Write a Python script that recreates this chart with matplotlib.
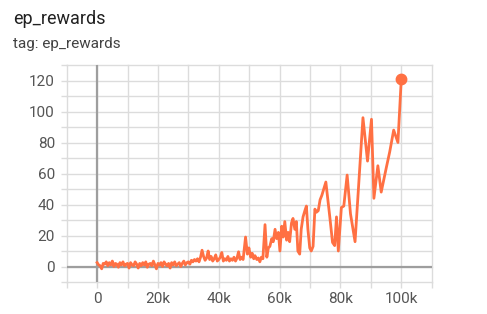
import matplotlib
matplotlib.use("Agg")
import matplotlib.pyplot as plt
from matplotlib.ticker import MultipleLocator, FuncFormatter
import numpy as np

plt.rcParams["font.family"] = ["Roboto", "DejaVu Sans"]

# early dense episodes (step, reward)
steps_early = [0, 500, 1000, 1500, 2000, 2500, 3000, 3500, 4000, 4500,
               5000, 5500, 6000, 6500, 7000, 7500, 8000, 8500, 9000, 9500,
               10000, 10500, 11000, 11500, 12000, 12500, 13000, 13500, 14000, 14500,
               15000, 15500, 16000, 16500, 17000, 17500, 18000, 18500, 19000, 19500,
               20000, 20500, 21000, 21500, 22000, 22500, 23000, 23500, 24000, 24500,
               25000, 25500, 26000, 26500, 27000, 27500, 28000, 28500, 29000, 29500,
               30000, 30500, 31000, 31500, 32000]
rewards_early = [2.5, 1.0, 0.5, -1.5, 2.0, 1.5, 3.0, 0.5, 2.5, 1.0,
                 3.5, 0.0, 2.0, 1.5, -0.5, 2.5, 1.0, 3.0, 0.5, 1.5,
                 2.0, -1.0, 2.5, 1.0, 0.5, 3.0, 1.5, -1.0, 2.0, 0.5,
                 2.5, 1.0, 3.0, -0.5, 1.5, 2.0, 0.5, 3.5, 1.0, -1.5,
                 2.0, 1.0, 2.5, 0.0, 3.0, 1.5, 0.5, 2.0, -1.0, 2.5,
                 1.0, 3.0, 0.5, 1.5, 2.5, 0.0, 2.0, 3.5, 1.0, 2.5,
                 3.0, 1.5, 4.0, 3.0, 4.5]

steps_mid = [32500, 33000, 33500, 34000, 34500, 35000, 35500, 36000, 36500, 37000,
             37500, 38000, 38500, 39000, 39500, 40000, 40500, 41000, 41500, 42000,
             42500, 43000, 43500, 44000, 44500, 45000, 45500, 46000, 46500, 47000,
             47500, 48000]
rewards_mid = [3.5, 5.0, 3.0, 6.0, 10.5, 6.5, 4.0, 5.5, 10.0, 4.5,
               6.5, 3.5, 5.0, 7.5, 3.5, 4.5, 6.0, 9.0, 3.5, 5.0,
               4.0, 6.5, 3.5, 5.0, 4.0, 6.0, 3.5, 5.5, 9.5, 4.5,
               6.0, 4.5]

steps_late = [48800, 49400, 49900, 50500, 51000, 51500, 51900, 52500, 53000, 53500,
              54000, 54500, 55200, 55800, 56300, 56800, 57400, 57900, 58500, 59000,
              59600, 60100, 60700, 61200, 61700, 62300, 62800, 63300, 63900, 64400,
              65000, 65500, 66000, 66600, 67100, 67700, 68300, 68800, 69300, 69900,
              70400, 71000, 71600, 72100, 72700, 73300, 73900, 74500, 75200, 76500,
              77400, 78100, 78700, 79300, 80300, 81100, 82200, 83300, 84800, 87400,
              88900, 90200, 91000, 92300, 93400, 95100, 96200, 97500, 98900, 100000]
rewards_late = [19.0, 8.0, 12.0, 6.0, 8.5, 5.0, 7.0, 4.5, 5.5, 3.0,
                6.0, 5.0, 27.0, 6.0, 12.0, 13.0, 18.0, 16.0, 24.0, 18.0,
                22.0, 10.0, 26.0, 19.0, 29.0, 17.0, 22.0, 16.0, 28.0, 31.0,
                24.0, 29.0, 10.0, 8.0, 24.0, 32.0, 36.0, 39.0, 24.0, 12.0,
                10.0, 13.0, 37.0, 35.0, 36.0, 43.0, 46.0, 50.0, 54.5, 32.0,
                15.5, 13.5, 32.0, 10.0, 38.0, 39.0, 59.0, 34.0, 16.0, 96.0,
                68.0, 95.0, 44.0, 65.0, 48.0, 64.0, 74.0, 88.0, 80.0, 121.0]

steps = steps_early + steps_mid + steps_late
rewards = rewards_early + rewards_mid + rewards_late

W, H = 487, 314
fig = plt.figure(figsize=(W / 100, H / 100), dpi=100)
ax = fig.add_axes([66.7 / W, 1 - 282 / H, (431.7 - 66.7) / W, (282 - 65) / H])

grid_c = "#dcdcdc"
ax.set_xlim(-10000, 110000)
ax.set_ylim(-10, 130)
ax.xaxis.set_major_locator(MultipleLocator(20000))
ax.xaxis.set_minor_locator(MultipleLocator(10000))
ax.yaxis.set_major_locator(MultipleLocator(20))
ax.yaxis.set_minor_locator(MultipleLocator(10))
ax.xaxis.set_major_formatter(FuncFormatter(lambda v, p: "0" if v == 0 else f"{int(v / 1000)}k"))
ax.yaxis.set_major_formatter(FuncFormatter(lambda v, p: f"{int(v)}"))
ax.grid(True, which="both", color=grid_c, lw=1.0, clip_on=False)
ax.tick_params(which="both", length=4.5, width=1.0, color=grid_c,
               labelsize=11, labelcolor="#555555")
ax.tick_params(axis="x", which="both", pad=3)
ax.tick_params(axis="y", which="both", pad=4)
for s in ax.spines.values():
    s.set_visible(False)
ax.axhline(0, color="#9e9e9e", lw=1.6, zorder=1.5)
ax.axvline(0, color="#9e9e9e", lw=1.6, zorder=1.5)
ax.set_axisbelow(True)

ax.plot(steps, rewards, color="#ff7043", lw=2.0, solid_joinstyle="round", zorder=3)
ax.plot(steps[-1], rewards[-1], "o", color="#ff7043", ms=7.5, zorder=4)

fig.text(13 / W, 1 - 19 / H, "ep_rewards", fontsize=13, color="#212121", va="center")
fig.text(13 / W, 1 - 44 / H, "tag: ep_rewards", fontsize=11, color="#424242", va="center")

fig.savefig("out.png", dpi=100)
